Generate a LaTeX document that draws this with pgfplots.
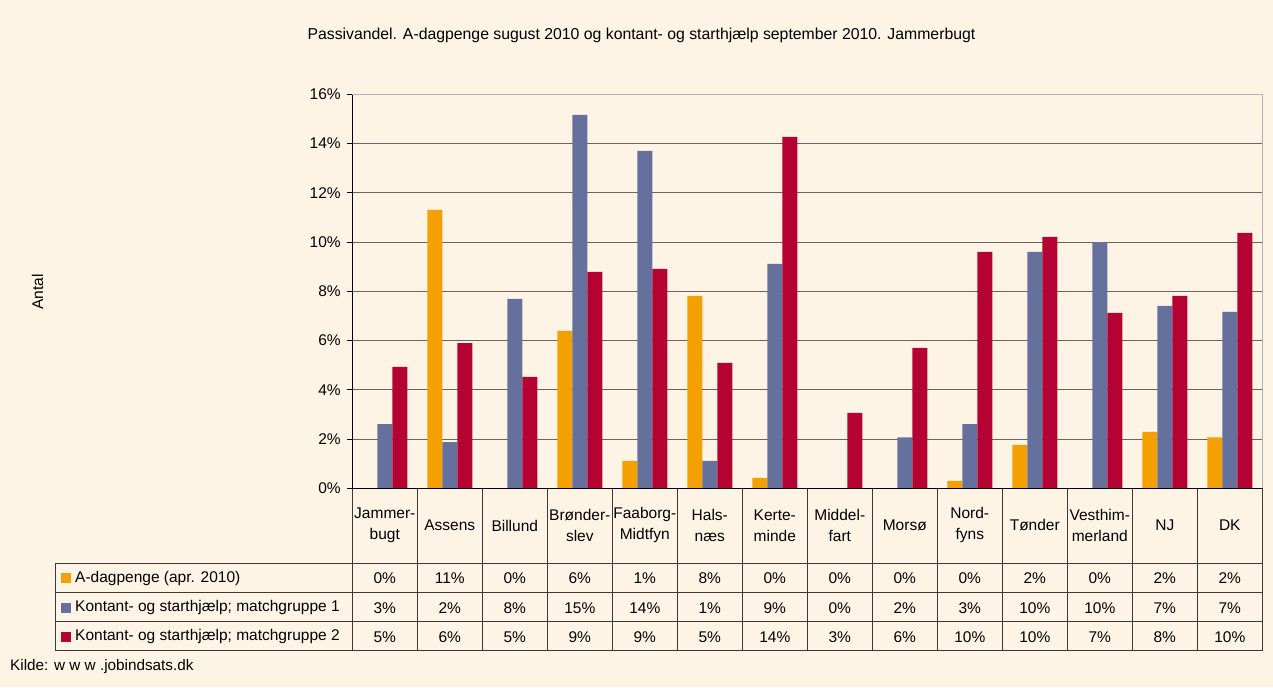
\documentclass[border=0pt]{standalone}
\usepackage{fontspec}
\setmainfont{Liberation Sans}
\usepackage{pgfplots}
\pgfplotsset{compat=1.18}
\usetikzlibrary{backgrounds}

\definecolor{cBg}{RGB}{254,244,230}
\definecolor{cAdag}{RGB}{244,160,0}
\definecolor{cKs1}{RGB}{102,112,156}
\definecolor{cKs2}{RGB}{180,3,51}
\definecolor{cGrid}{RGB}{105,100,94}
\definecolor{cRule}{RGB}{60,58,55}

\newcommand\fs{\fontsize{15.5}{21}\selectfont}

% andel i procent, aflaest fra figuren
\pgfplotstableread{
x  adag   ks1    ks2
0  0      2.61   4.93
1  11.31  1.88   5.90
2  0      7.69   4.52
3  6.39   15.16  8.79
4  1.11   13.70  8.91
5  7.81   1.11   5.09
6  0.42   9.11   14.27
7  0      0      3.06
8  0      2.07   5.70
9  0.30   2.61   9.60
10 1.76   9.60   10.21
11 0      10.00  7.12
12 2.29   7.41   7.81
13 2.07   7.16   10.37
}\data

\begin{document}
\begin{tikzpicture}
\begin{axis}[
  at={(0,0)}, anchor=south west,
  scale only axis, width=910pt, height=394pt,
  xmin=-0.5, xmax=13.5, ymin=0, ymax=16,
  ybar=0pt, bar width=0.2308,
  ytick={0,2,...,16}, xtick=\empty,
  yticklabel={\pgfmathprintnumber{\tick}\%},
  /pgf/number format/assume math mode=true,
  tick label style={font=\fs},
  yticklabel style={xshift=-3pt},
  ymajorgrids, grid style={cGrid, line width=1pt},
  axis lines=left, axis line style={-, black, line width=0.9pt},
  tick align=outside, major tick length=5pt,
  ytick style={black, line width=0.9pt},
  clip=false,
]
\addplot[fill=cAdag, draw=none] table[x=x, y=adag]{\data};
\addplot[fill=cKs1, draw=none] table[x=x, y=ks1]{\data};
\addplot[fill=cKs2, draw=none] table[x=x, y=ks2]{\data};
\draw[gray!60, line width=1pt] (axis cs:-0.5,16) -- (axis cs:13.5,16) -- (axis cs:13.5,0);
\end{axis}

% samme enheder som aksen: x = kategori, y = procent
\begin{scope}[x=65pt, y=24.625pt, xshift=32.5pt]
\foreach \k in {0,...,14}
  \draw[cRule, line width=0.9pt] (\k-0.5,0) -- (\k-0.5,-6.6);
\draw[cRule, line width=0.9pt] (-5.063,-3.04) -- (-5.063,-6.6);
\foreach \yy in {-3.04,-4.23,-5.42,-6.6}
  \draw[cRule, line width=0.9pt] (-5.063,\yy) -- (13.5,\yy);
\draw[black, line width=0.9pt] (-0.5,0) -- (13.5,0);

\foreach \n [count=\i from 0] in {Jammer-\\bugt, Assens, Billund, Brønder-\\slev,
    Faaborg-\\Midtfyn, Hals-\\næs, Kerte-\\minde, Middel-\\fart, Morsø,
    Nord-\\fyns, Tønder, Vesthim-\\merland, NJ, DK}
  \node[font=\fs, align=center, inner sep=0pt] at (\i,-1.51) {\n};

\foreach \v [count=\i from 0] in {0,11,0,6,1,8,0,0,0,0,2,0,2,2}
  \node[font=\fs] at (\i,-3.66) {\v\%};
\foreach \v [count=\i from 0] in {3,2,8,15,14,1,9,0,2,3,10,10,7,7}
  \node[font=\fs] at (\i,-4.85) {\v\%};
\foreach \v [count=\i from 0] in {5,6,5,9,9,5,14,3,6,10,10,7,8,10}
  \node[font=\fs] at (\i,-6.03) {\v\%};

\foreach \cc/\tt/\yy in {cAdag/A-dagpenge (apr. 2010)/-3.66,
    cKs1/Kontant- og starthjælp; matchgruppe 1/-4.85,
    cKs2/Kontant- og starthjælp; matchgruppe 2/-6.03} {
  \node[fill=\cc, minimum size=10pt, inner sep=0pt, anchor=west] at (-4.986,\yy) {};
  \node[font=\fs, anchor=west, inner sep=0pt] at (-4.766,\yy) {\tt};
}

\node[font=\fontsize{15.8}{18}\selectfont] at (3.949,18.4)
  {Passivandel. A-dagpenge sugust 2010 og kontant- og starthjælp september 2010. Jammerbugt};
\node[font=\fs, rotate=90] at (-5.343,7.97) {Antal};
\node[font=\fontsize{15.3}{18}\selectfont, anchor=west, inner sep=0pt] at (-5.766,-7.257)
  {Kilde: w w w .jobindsats.dk};

\begin{scope}[on background layer]
  \fill[cBg] (-5.92,-8.07) rectangle (13.665,19.83);
\end{scope}
\end{scope}
\end{tikzpicture}
\end{document}
